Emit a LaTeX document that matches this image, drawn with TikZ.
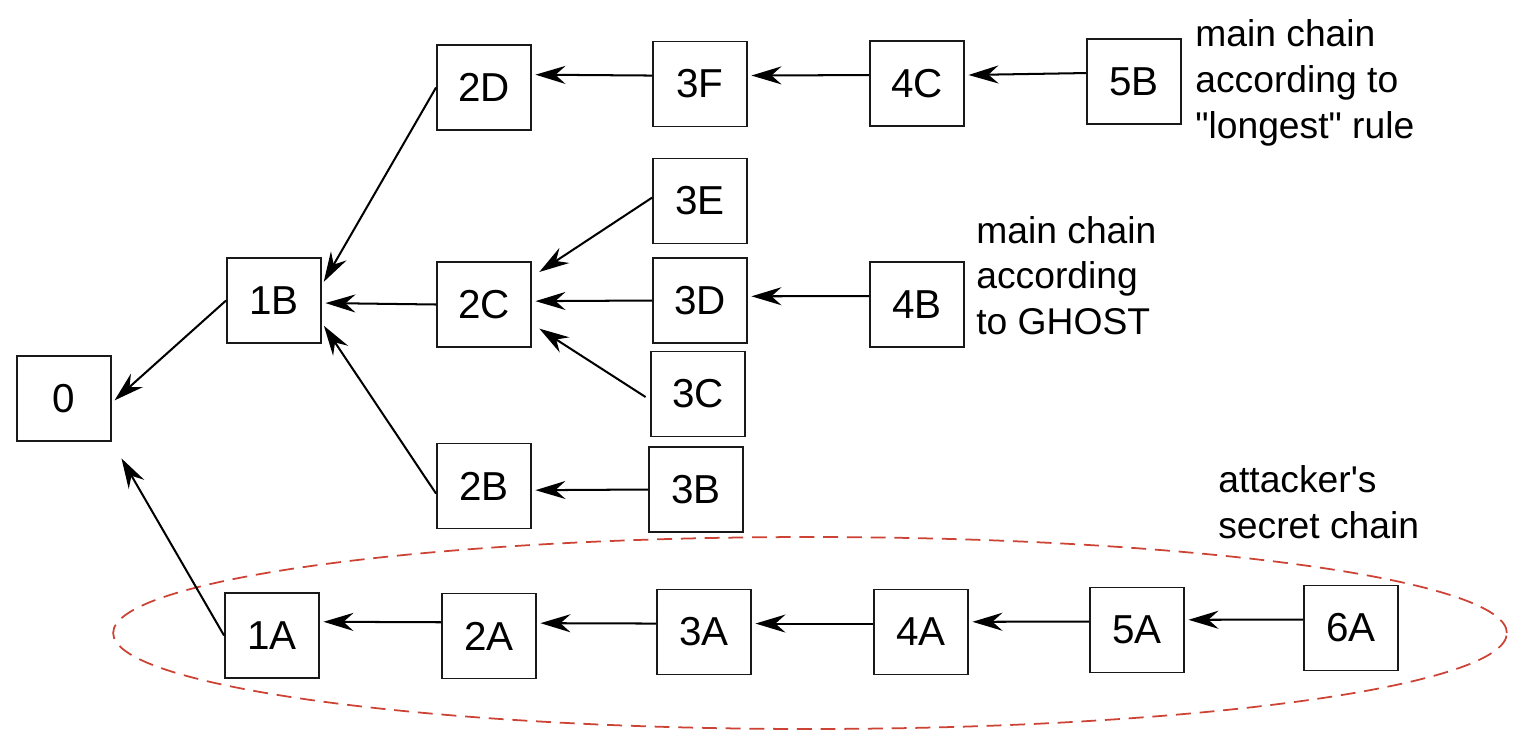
\documentclass[tikz,border=0pt]{standalone}
\usepackage{fontspec}
\setmainfont{Liberation Sans}
\usetikzlibrary{arrows.meta}
\definecolor{secretred}{RGB}{204,66,52}

\begin{document}
\begin{tikzpicture}[x=0.02cm, y=-0.02cm,
  block/.style={draw=black!90, line width=1.1pt, minimum width=1.88cm, minimum height=1.7cm,
    inner sep=0pt, font=\fontsize{23}{26}\selectfont},
  link/.style={line width=1.15pt, shorten >=2pt,
    -{Stealth[length=0.6cm, width=0.36cm, inset=0.2cm]}},
  note/.style={anchor=base west, align=left, inner sep=0pt, font=\fontsize{21.2}{25.9}\selectfont}]
  \useasboundingbox (0,0) rectangle (1531,748);

  \draw[secretred, line width=1pt, dash pattern=on 8.5pt off 5pt] (810,633) ellipse [x radius=13.94cm, y radius=1.92cm];

  \node[block] (n0) at (64,398.5) {0};
  \node[block] (n1B) at (274,300.5) {1B};
  \node[block] (n2D) at (484,87.5) {2D};
  \node[block] (n3F) at (700,84) {3F};
  \node[block] (n4C) at (917,83.5) {4C};
  \node[block] (n5B) at (1134,81.5) {5B};
  \node[block] (n2C) at (484,304.5) {2C};
  \node[block] (n3E) at (700,201) {3E};
  \node[block] (n3D) at (700,300.5) {3D};
  \node[block] (n4B) at (917,304.5) {4B};
  \node[block] (n3C) at (698,394) {3C};
  \node[block] (n2B) at (484,486) {2B};
  \node[block] (n3B) at (696,489.5) {3B};
  \node[block] (n1A) at (272,635.5) {1A};
  \node[block] (n2A) at (489,636) {2A};
  \node[block] (n3A) at (704,632) {3A};
  \node[block] (n4A) at (921,632) {4A};
  \node[block] (n5A) at (1137,630) {5A};
  \node[block] (n6A) at (1351,628) {6A};

  % base anchor sits on the last line
  \node[note] (longest) at (1195,138) {main chain\\according to\\\textquotedbl longest\textquotedbl{} rule};
  \node[note] (ghost) at (976,334) {main chain\\according\\to GHOST};
  \node[note] (secret) at (1218,538) {attacker\textquotesingle s\\secret chain};

  % upper chain
  \draw[link] (n3F.170) -- (n2D.15);
  \draw[link] (n4C.170) -- (n3F.10);
  \draw[link] (n5B.170) -- (n4C.10);
  \draw[link] (n2D.west) -- (n1B.18);
  % GHOST subtree
  \draw[link, shorten >=5pt] (n3E.176) -- (n2C.30);
  \draw[link] (n3D.west) -- (n2C.4);
  \draw[link] (n4B.170) -- (n3D.5);
  \draw[link, shorten <=3pt, shorten >=5pt] (n3C.-173) -- (n2C.-22);
  \draw[link] (n2C.west) -- (n1B.-3);
  \draw[link] (n3B.west) -- (n2B.-5);
  \draw[link] (n2B.-171) -- (n1B.-25);
  \draw[link] (n1B.west) -- (n0.-5);
  % secret chain
  \draw[link, shorten >=0.38cm] (n1A.west) -- (n0.south east);
  \draw[link] (n2A.164) -- (n1A.16);
  \draw[link] (n3A.170) -- (n2A.15);
  \draw[link] (n4A.170) -- (n3A.10);
  \draw[link] (n5A.170) -- (n4A.12);
  \draw[link] (n6A.170) -- (n5A.12);
\end{tikzpicture}
\end{document}
